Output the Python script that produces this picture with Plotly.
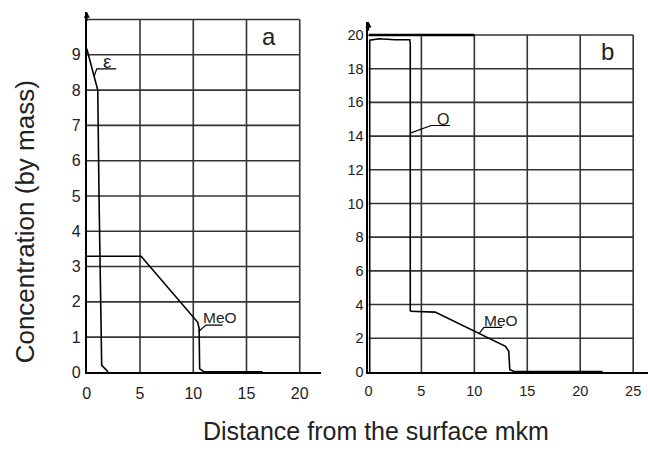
import plotly.graph_objects as go

W, H = 648, 451

# ---------------- data ----------------
# panel a
a_xticks = [0, 5, 10, 15, 20]
a_yticks = [0, 1, 2, 3, 4, 5, 6, 7, 8, 9]
a_ygrid = [1, 2, 3, 4, 5, 6, 7, 8, 9, 10]
eps_x = [0.0, 1.03, 1.15, 1.4, 2.0]
eps_y = [9.17, 8.0, 5.0, 0.2, 0.02]
meo_a_x = [0.0, 5.1, 10.42, 10.55, 10.6, 11.0, 16.5]
meo_a_y = [3.29, 3.29, 1.42, 1.25, 0.1, 0.02, 0.02]

# panel b
b_xticks = [0, 5, 10, 15, 20, 25]
b_yticks = [0, 2, 4, 6, 8, 10, 12, 14, 16, 18, 20]
o_x = [0.12, 0.12, 0.12, 1.0, 2.5, 3.9, 3.95, 3.95]
o_y = [0.0, 0.3, 19.7, 19.78, 19.72, 19.72, 19.5, 3.6]
meo_b_x = [3.95, 6.3, 12.94, 13.25, 13.35, 13.8, 22.1]
meo_b_y = [3.6, 3.55, 1.52, 1.23, 0.13, 0.02, 0.02]

# ranges
a_xr = [0, 22.0]
a_yr = [0, 10.22]
b_xr = [0, 26.4]
b_yr = [0, 20.8]

# ---------------- figure ----------------
FONT = "Liberation Sans, Arial, sans-serif"
GRID = "#333333"
fig = go.Figure()


def grid_trace(xvals, yvals, xmax, ymax, xa, ya):
    gx, gy = [], []
    for v in xvals:
        gx += [v, v, None]
        gy += [0, ymax, None]
    for v in yvals:
        gx += [0, xmax, None]
        gy += [v, v, None]
    return go.Scatter(x=gx, y=gy, mode="lines", xaxis=xa, yaxis=ya,
                      line=dict(color=GRID, width=1.6), hoverinfo="skip",
                      showlegend=False)


fig.add_trace(grid_trace(a_xticks[1:], a_ygrid, 20, 10, "x", "y"))
fig.add_trace(grid_trace(b_xticks[1:], b_yticks[1:], 25, 20, "x2", "y2"))
# heavier top border segment in panel b
fig.add_trace(go.Scatter(x=[0, 10], y=[20, 20], mode="lines", xaxis="x2", yaxis="y2",
                         line=dict(color="black", width=2.4), showlegend=False))

LINE = dict(color="black", width=1.6)
for xs, ys, xa, ya in [(eps_x, eps_y, "x", "y"), (meo_a_x, meo_a_y, "x", "y"),
                       (o_x, o_y, "x2", "y2"), (meo_b_x, meo_b_y, "x2", "y2")]:
    fig.add_trace(go.Scatter(x=xs, y=ys, mode="lines", xaxis=xa, yaxis=ya,
                             line=LINE, showlegend=False))

# leader lines (label pointers with underline)
leaders = [
    ([0.69, 0.93, 2.77], [8.39, 8.6, 8.6], "x", "y"),
    ([10.5, 11.19, 12.75], [1.16, 1.34, 1.34], "x", "y"),
    ([3.95, 5.92, 7.7], [14.18, 14.63, 14.63], "x2", "y2"),
    ([10.44, 10.91, 12.63], [2.28, 2.65, 2.65], "x2", "y2"),
]
for xs, ys, xa, ya in leaders:
    fig.add_trace(go.Scatter(x=xs, y=ys, mode="lines", xaxis=xa, yaxis=ya,
                             line=dict(color="black", width=1.2), showlegend=False))

TXT = "#222"
ann = [
    dict(text="ε", x=1.9, y=8.8, xref="x", yref="y", font_size=19),
    dict(text="MeO", x=12.5, y=1.55, xref="x", yref="y", font_size=15.5),
    dict(text="O", x=7.0, y=15.0, xref="x2", yref="y2", font_size=16),
    dict(text="MeO", x=12.5, y=3.08, xref="x2", yref="y2", font_size=15.5),
    dict(text="a", x=17.1, y=9.53, xref="x", yref="y", font_size=24),
    dict(text="b", x=22.6, y=19.0, xref="x2", yref="y2", font_size=24),
    dict(text="Concentration (by mass)", x=22 / W, y=1 - 226 / H, xref="paper",
         yref="paper", textangle=-90, font_size=26),
    dict(text="Distance from the surface mkm", x=198 / W, y=1 - 440 / H,
         xref="paper", yref="paper", font_size=25, xanchor="left"),
]
for a in ann:
    fs = a.pop("font_size")
    a.setdefault("xanchor", "center")
    fig.add_annotation(showarrow=False, yanchor="middle",
                       font=dict(family=FONT, size=fs, color=TXT), **a)

# axis arrows
for xr, yr, ytop in [("x", "y", a_yr[1]), ("x2", "y2", b_yr[1])]:
    fig.add_annotation(x=0, y=ytop, ax=0, ay=ytop * 0.97, xref=xr, yref=yr,
                       axref=xr, ayref=yr, showarrow=True, arrowhead=2,
                       arrowsize=0.8, arrowwidth=1.5, arrowcolor="black", text="")


def px_dom_x(l, r):
    return [l / W, r / W]


def px_dom_y(top, bottom):
    return [1 - bottom / H, 1 - top / H]


axis_common = dict(showgrid=False, zeroline=False, showline=True,
                   linecolor="black", linewidth=2, ticks="", fixedrange=True)

fig.update_layout(
    width=W, height=H,
    margin=dict(l=0, r=0, t=0, b=0),
    paper_bgcolor="white", plot_bgcolor="white",
    font=dict(family=FONT, color=TXT),
    xaxis=dict(domain=px_dom_x(83.3, 319), range=a_xr, anchor="y",
               tickvals=a_xticks, tickfont=dict(size=16), ticklabelstandoff=5,
               **axis_common),
    yaxis=dict(domain=px_dom_y(12, 380), range=a_yr, anchor="x",
               tickvals=a_yticks, tickfont=dict(size=16), ticklabelstandoff=1,
               **axis_common),
    xaxis2=dict(domain=px_dom_x(366.7, 648), range=b_xr, anchor="y2",
                tickvals=b_xticks, tickfont=dict(size=14.5), ticklabelstandoff=5,
                **axis_common),
    yaxis2=dict(domain=px_dom_y(22, 379.5), range=b_yr, anchor="x2",
                tickvals=b_yticks, tickfont=dict(size=14.5), ticklabelstandoff=0,
                **axis_common),
)

fig.write_html("out.html", post_script="document.body.style.margin='0';",
               config={"displayModeBar": False})
